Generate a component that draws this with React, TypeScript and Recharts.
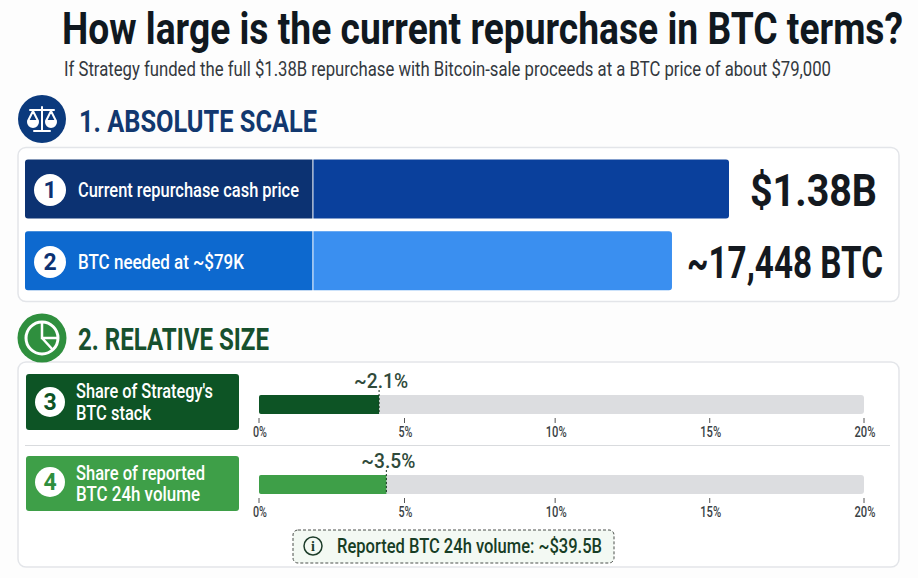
import React from "react";
import { BarChart, Bar, XAxis, YAxis, LabelList, Cell, ReferenceLine } from "recharts";

const FONT = "Roboto, 'Liberation Sans', sans-serif";

const TITLE = "How large is the current repurchase in BTC terms?";
const SUBTITLE = "If Strategy funded the full $1.38B repurchase with Bitcoin-sale proceeds at a BTC price of about $79,000";
const SECTION_ONE = "1. ABSOLUTE SCALE";
const SECTION_TWO = "2. RELATIVE SIZE";
const NOTE = "Reported BTC 24h volume: ~$39.5B";

// Absolute scale: bar lengths as drawn in the picture (index, cash price = 100)
const absoluteNames = ["Current repurchase cash price", "BTC needed at ~$79K"];
const absoluteLengths = [100, 91.9];
const absoluteLabelPanel = [40.9, 40.9];
const absoluteLabels = ["$1.38B", "~17,448 BTC"];

// Relative size: bar ends as read against the axis, with their printed labels
const stackLength = [3.97];
const stackLabel = ["~2.1%"];
const volumeLength = [4.21];
const volumeLabel = ["~3.5%"];
const axisTickValues = [0, 4.81, 9.79, 14.9, 20];
const axisTickLabels = ["0%", "5%", "10%", "15%", "20%"];

const absoluteData = absoluteNames.map((name, i) => ({
  name,
  panel: absoluteLabelPanel[i],
  rest: absoluteLengths[i] - absoluteLabelPanel[i],
  label: absoluteLabels[i],
}));

// Text squeezed horizontally to the condensed width seen in the picture
function FitText({ x, y, w, size, weight = 700, fill, children }: { x: number; y: number; w: number; size: number; weight?: number; fill: string; children: string }) {
  const sx = Math.min(1, w / (children.length * 0.53 * size));
  return (
    <text
      transform={`translate(${x} ${y}) scale(${sx} 1)`}
      fontFamily={FONT}
      fontWeight={weight}
      fontSize={size}
      fill={fill}
      textLength={w / sx}
      lengthAdjust="spacingAndGlyphs"
    >
      {children}
    </text>
  );
}

function BigLabel(props: any) {
  const { x, y, width, height, value, index } = props;
  const widths = [127, 196];
  const gaps = [21, 15];
  return (
    <FitText x={x + width + gaps[index]} y={y + height / 2 + 17} w={widths[index]} size={45} fill="#14191f">
      {value}
    </FitText>
  );
}

function AxisTick(props: any) {
  const { x, y, payload } = props;
  const text = axisTickLabels[axisTickValues.indexOf(payload.value)] ?? "";
  const w = text.length * 7;
  return (
    <g>
      <line x1={x} x2={x} y1={y + 3} y2={y + 8} stroke="#555" strokeWidth={1} />
      <FitText x={x + 1 - w / 2} y={y + 22} w={w} size={14.5} weight={500} fill="#3a3f45">
        {text}
      </FitText>
    </g>
  );
}

function EndLabel(props: any) {
  const { x, y, width, height, value } = props;
  const end = x + width;
  return (
    <g>
      <line x1={end} x2={end} y1={y - 5} y2={y + height} stroke="#17351f" strokeWidth={1} strokeDasharray="2 2" />
      <FitText x={end + 2 - 27} y={y - 7} w={54} size={21} weight={500} fill="#2f4a3a">
        {value}
      </FitText>
    </g>
  );
}

function ShareChart({ top, length, label, fill }: { top: number; length: number[]; label: string[]; fill: string }) {
  const data = length.map((v, i) => ({ v, label: label[i] }));
  return (
    <div style={{ position: "absolute", left: 0, top, width: 918, height: 84 }}>
      <BarChart
        width={918}
        height={84}
        data={data}
        layout="vertical"
        barCategoryGap={0}
        margin={{ top: 34, right: 54, bottom: 0, left: 259 }}
      >
        <XAxis
          type="number"
          xAxisId={0}
          domain={[0, 20]}
          ticks={axisTickValues}
          interval={0}
          height={29}
          axisLine={false}
          tickLine={false}
          tickSize={0}
          tickMargin={0}
          tick={<AxisTick />}
        />
        <YAxis type="category" dataKey="label" hide />
        <Bar
          dataKey="v"
          fill={fill}
          barSize={21}
          isAnimationActive={false}
          background={{ fill: "#dcdde0", radius: 3 } as any}
          radius={[2, 0, 0, 2]}
        >
          <LabelList dataKey="label" content={<EndLabel />} />
        </Bar>
      </BarChart>
    </div>
  );
}

function Badge({ cx, cy, r, n, color }: { cx: number; cy: number; r: number; n: string; color: string }) {
  return (
    <g>
      <circle cx={cx} cy={cy} r={r} fill="#fff" />
      <text x={cx} y={cy + 8} textAnchor="middle" fontFamily={FONT} fontWeight={700} fontSize={23} fill={color}>
        {n}
      </text>
    </g>
  );
}

function PanelText({ x, y, w, children }: { x: number; y: number; w: number; children: string }) {
  return (
    <FitText x={x} y={y} w={w} size={20} weight={500} fill="#fff">
      {children}
    </FitText>
  );
}

export default function App() {
  return (
    <div style={{ position: "absolute", left: 0, top: 0, width: 918, height: 578, background: "#fdfdfd", overflow: "hidden" }}>
      <svg width={918} height={578} style={{ position: "absolute", left: 0, top: 0 }}>
        <rect x={18} y={147.5} width={881} height={154} rx={8} fill="#fff" stroke="#e3e5e9" strokeWidth={1.5} />
        <rect x={18} y={362} width={881} height={205} rx={8} fill="#fff" stroke="#e3e5e9" strokeWidth={1.5} />
        <line x1={25} x2={890} y1={445.5} y2={445.5} stroke="#d9dbde" />
        <rect x={26} y={374} width={213} height={56} rx={3} fill="#0d5425" />
        <rect x={26} y={456} width={213} height={55} rx={3} fill="#3e9f48" />
      </svg>

      <div style={{ position: "absolute", left: 0, top: 150, width: 918, height: 150 }}>
        <BarChart
          width={918}
          height={150}
          data={absoluteData}
          layout="vertical"
          barCategoryGap={0}
          margin={{ top: 3.6, right: 189, bottom: 3, left: 25 }}
        >
          <XAxis type="number" domain={[0, 100]} hide />
          <YAxis type="category" dataKey="name" hide />
          <Bar dataKey="panel" stackId="a" barSize={59} isAnimationActive={false} radius={[3, 0, 0, 3]}>
            <Cell fill="#0c3272" />
            <Cell fill="#0d69cf" />
          </Bar>
          <Bar dataKey="rest" stackId="a" barSize={59} isAnimationActive={false} radius={[0, 3, 3, 0]}>
            <Cell fill="#0a409c" />
            <Cell fill="#3a8ff0" />
            <LabelList dataKey="label" content={<BigLabel />} />
          </Bar>
          <ReferenceLine x={absoluteLabelPanel[0]} stroke="#fff" strokeWidth={1} />
        </BarChart>
      </div>

      <ShareChart top={360} length={stackLength} label={stackLabel} fill="#0d5425" />
      <ShareChart top={440} length={volumeLength} label={volumeLabel} fill="#3e9f48" />

      <svg width={918} height={578} style={{ position: "absolute", left: 0, top: 0, pointerEvents: "none" }}>
        <FitText x={62} y={44} w={841} size={45} fill="#10181f">{TITLE}</FitText>
        <FitText x={64} y={76} w={767} size={20} weight={400} fill="#33383d">{SUBTITLE}</FitText>

        <circle cx={42} cy={119} r={24} fill="#0b3a7d" />
        <g stroke="#fff" strokeWidth={2} fill="none" strokeLinecap="round" strokeLinejoin="round">
          <line x1={42} x2={42} y1={107} y2={130} />
          <line x1={30} x2={54} y1={110} y2={110} />
          <line x1={34} x2={50} y1={131} y2={131} />
          <path d="M33 111 L28 121 H38 Z M51 111 L46 121 H56 Z" />
          <path d="M28 122 a5 5 0 0 0 10 0 Z M46 122 a5 5 0 0 0 10 0 Z" fill="#fff" />
        </g>
        <FitText x={79} y={132} w={238} size={31} fill="#12386f">{SECTION_ONE}</FitText>

        <circle cx={42} cy={338} r={24.5} fill="#2f8f3e" />
        <circle cx={42} cy={338} r={16} fill="none" stroke="#fff" strokeWidth={3} />
        <path d="M42 322 V338 H58 M42 338 L53 350" stroke="#fff" strokeWidth={2.5} fill="none" />
        <FitText x={78} y={350} w={191} size={31} fill="#17502e">{SECTION_TWO}</FitText>

        <Badge cx={50} cy={190} r={16} n="1" color="#0c3272" />
        <PanelText x={78} y={197} w={221}>{absoluteNames[0]}</PanelText>
        <Badge cx={50} cy={262} r={16} n="2" color="#0c3272" />
        <PanelText x={78} y={269} w={166}>{absoluteNames[1]}</PanelText>

        <Badge cx={50} cy={402} r={15} n="3" color="#0d5425" />
        <PanelText x={76} y={398} w={137}>Share of Strategy's</PanelText>
        <PanelText x={76} y={420} w={75}>BTC stack</PanelText>
        <Badge cx={50} cy={482} r={15} n="4" color="#2f8f3e" />
        <PanelText x={76} y={480} w={129}>Share of reported</PanelText>
        <PanelText x={76} y={501} w={124}>BTC 24h volume</PanelText>

        <rect x={293} y={530} width={321} height={33} rx={5} fill="#f3f9f3" stroke="#4a4f4a" strokeWidth={1} strokeDasharray="3 2" />
        <circle cx={313} cy={546} r={9} fill="none" stroke="#1d3d2a" strokeWidth={1.5} />
        <text x={313} y={551} textAnchor="middle" fontFamily="'Liberation Serif', serif" fontWeight={700} fontSize={14} fill="#1d3d2a">i</text>
        <FitText x={337} y={553} w={265} size={20} weight={500} fill="#173d25">{NOTE}</FitText>
      </svg>
    </div>
  );
}
